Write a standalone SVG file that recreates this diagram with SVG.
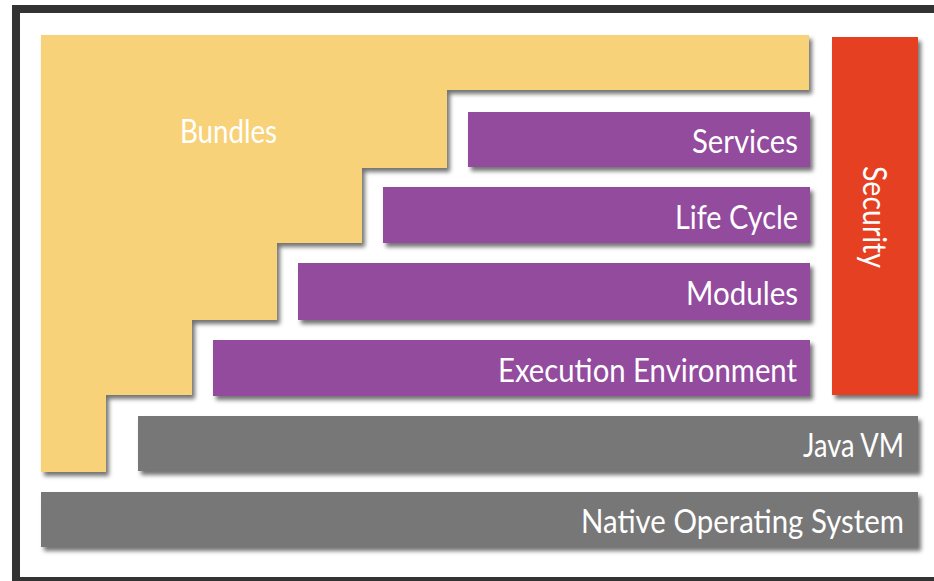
<svg xmlns="http://www.w3.org/2000/svg" width="934" height="581" viewBox="0 0 934 581">
<defs>
<filter id="sh" x="-5%" y="-10%" width="115%" height="130%">
<feDropShadow dx="3" dy="4" stdDeviation="2" flood-color="#000" flood-opacity="0.55"/>
</filter>
</defs>
<style>
.lbl{font-family:Lato,"Open Sans","Liberation Sans",sans-serif;font-size:32px;fill:#fff;}
.y{fill:#F7D279;filter:url(#sh);}
.p{fill:#924B9D;filter:url(#sh);}
.g{fill:#777777;filter:url(#sh);}
.r{fill:#E63F22;filter:url(#sh);}
</style>
<rect x="0" y="0" width="934" height="581" fill="#fff"/>
<rect x="16" y="9" width="940" height="572" fill="#fff" stroke="#333333" stroke-width="8"/>
<g id="bundles">
<path class="y" d="M41,35 H809 V90 H447 V168 H362 V243 H277 V320 H192 V395 H106 V472 H41 Z"/>
<text class="lbl" x="180" y="143" textLength="97" lengthAdjust="spacingAndGlyphs">Bundles</text>
</g>
<g id="services">
<rect class="p" x="468" y="112" width="342" height="55"/>
<text class="lbl" x="798" y="153" text-anchor="end" textLength="106" lengthAdjust="spacingAndGlyphs">Services</text>
</g>
<g id="lifecycle">
<rect class="p" x="383" y="187" width="427" height="56"/>
<text class="lbl" x="798" y="229" text-anchor="end" textLength="123" lengthAdjust="spacingAndGlyphs">Life Cycle</text>
</g>
<g id="modules">
<rect class="p" x="298" y="263" width="512" height="57"/>
<text class="lbl" x="798" y="305" text-anchor="end" textLength="112" lengthAdjust="spacingAndGlyphs">Modules</text>
</g>
<g id="execution">
<rect class="p" x="213" y="340" width="597" height="56"/>
<text class="lbl" x="797" y="382" text-anchor="end" textLength="299" lengthAdjust="spacingAndGlyphs">Execution Environment</text>
</g>
<g id="security">
<rect class="r" x="832" y="37" width="86" height="358"/>
<text class="lbl" transform="translate(863,166) rotate(90)" x="0" y="0" textLength="102" lengthAdjust="spacingAndGlyphs">Security</text>
</g>
<g id="javavm">
<rect class="g" x="138" y="416" width="780" height="55"/>
<text class="lbl" x="904" y="457" text-anchor="end" textLength="101" lengthAdjust="spacingAndGlyphs">Java VM</text>
</g>
<g id="nativeos">
<rect class="g" x="41" y="492" width="877" height="55"/>
<text class="lbl" x="904" y="533" text-anchor="end" textLength="323" lengthAdjust="spacingAndGlyphs">Native Operating System</text>
</g>
<g id="connectors"></g>
</svg>
